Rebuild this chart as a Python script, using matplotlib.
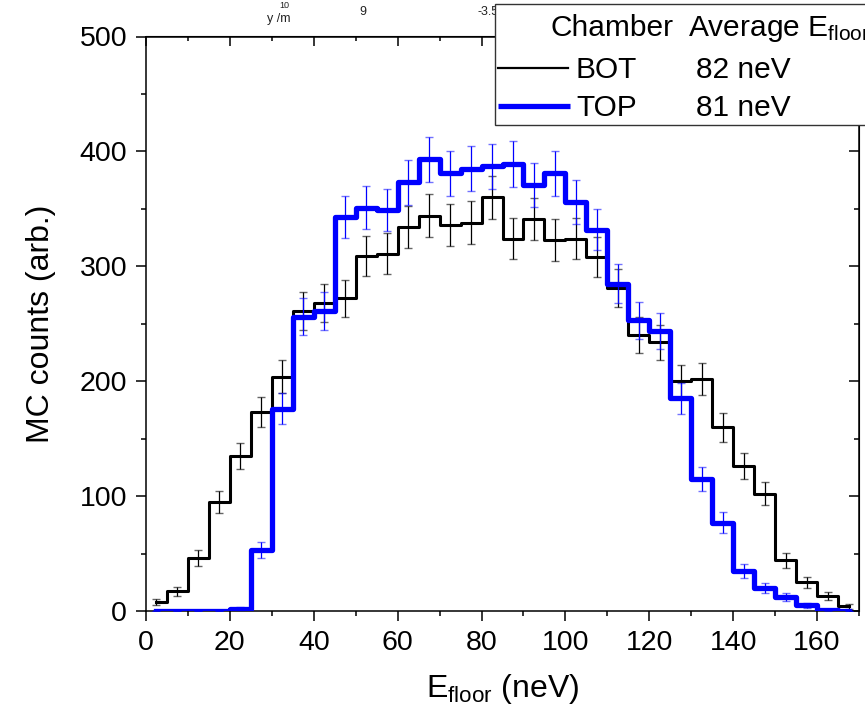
import matplotlib.pyplot as plt
from matplotlib.lines import Line2D
from matplotlib.patches import Rectangle
from matplotlib.ticker import MultipleLocator

plt.rcParams['font.family'] = ['Liberation Sans', 'DejaVu Sans']
plt.rcParams['mathtext.fontset'] = 'custom'
plt.rcParams['mathtext.rm'] = 'Liberation Sans'
plt.rcParams['mathtext.it'] = 'Liberation Sans:italic'

# bin centres (neV)
e_floor = [2.5, 7.5, 12.5, 17.5, 22.5, 27.5, 32.5, 37.5, 42.5, 47.5, 52.5, 57.5,
           62.5, 67.5, 72.5, 77.5, 82.5, 87.5, 92.5, 97.5, 102.5, 107.5, 112.5,
           117.5, 122.5, 127.5, 132.5, 137.5, 142.5, 147.5, 152.5, 157.5, 162.5, 167.5]

# MC counts, bottom chamber
bot_counts = [8, 17, 46, 95, 135, 173, 204, 261, 268, 272, 309, 311,
              334, 344, 336, 338, 360, 324, 341, 323, 324, 308, 281,
              240, 234, 200, 202, 160, 126, 102, 44, 25, 13, 4]
bot_err = [2.8, 4.1, 6.8, 9.7, 11.6, 13.2, 14.3, 16.2, 16.4, 16.5, 17.6, 17.6,
           18.3, 18.5, 18.3, 18.4, 19.0, 18.0, 18.5, 18.0, 18.0, 17.5, 16.8,
           15.5, 15.3, 14.1, 14.2, 12.6, 11.2, 10.1, 6.6, 5.0, 3.6, 2.0]

# MC counts, top chamber
top_counts = [0, 0, 0, 0, 2, 53, 176, 256, 261, 343, 351, 349,
              373, 393, 381, 385, 387, 389, 371, 381, 356, 332, 285,
              253, 244, 185, 115, 77, 35, 20, 12, 5, 1, 0]
top_err = [0, 0, 0, 0, 1.4, 7.3, 13.3, 16.0, 16.2, 18.5, 18.7, 18.7,
           19.3, 19.8, 19.5, 19.6, 19.7, 19.7, 19.3, 19.5, 18.9, 18.2, 16.9,
           15.9, 15.6, 13.6, 10.7, 8.8, 5.9, 4.5, 3.5, 2.2, 1.0, 0]

W, H = 865, 714


def fx(x):
    return x / W


def fy(y):
    return 1 - y / H


fig = plt.figure(figsize=(W / 100, H / 100), dpi=100)
ax = fig.add_axes([fx(146), fy(611), (859 - 146) / W, (611 - 36.5) / H])

# histograms
ax.plot(e_floor, bot_counts, drawstyle='steps-mid', color='black', lw=2.2, zorder=2)
eb = ax.errorbar(e_floor, bot_counts, yerr=bot_err, fmt='none', ecolor='black',
                 elinewidth=0.9, capsize=3.2, capthick=1.0, zorder=3)
for c in eb[1]:
    c.set_alpha(0.6)
ax.plot(e_floor, top_counts, drawstyle='steps-mid', color='#0000ff', lw=3.8, zorder=4)
eb = ax.errorbar(e_floor, top_counts, yerr=top_err, fmt='none', ecolor='#0000ff',
                 elinewidth=0.9, capsize=3.2, capthick=1.0, zorder=5)
for c in eb[1]:
    c.set_alpha(0.55)

ax.set_xlim(0, 170)
ax.set_ylim(0, 500)
ax.xaxis.set_major_locator(MultipleLocator(20))
ax.xaxis.set_minor_locator(MultipleLocator(10))
ax.yaxis.set_major_locator(MultipleLocator(100))
ax.yaxis.set_minor_locator(MultipleLocator(50))
ax.tick_params(which='both', direction='out', top=False, right=False,
               labelsize=20.5, width=1.1, pad=6)
ax.tick_params(which='major', length=7.5)
ax.tick_params(which='minor', length=3.8)
for s in ax.spines.values():
    s.set_linewidth(1.1)

# inward ticks on top and right
top = ax.secondary_xaxis('top')
top.xaxis.set_major_locator(MultipleLocator(20))
top.xaxis.set_minor_locator(MultipleLocator(10))
top.tick_params(which='both', direction='in', labeltop=False, width=1.1)
top.tick_params(which='major', length=7.5)
top.tick_params(which='minor', length=3.5)
right = ax.secondary_yaxis('right')
right.yaxis.set_major_locator(MultipleLocator(100))
right.yaxis.set_minor_locator(MultipleLocator(50))
right.tick_params(which='both', direction='in', labelright=False, width=1.1)
right.tick_params(which='major', length=7.5)
right.tick_params(which='minor', length=3.5)

ax.set_ylabel('MC counts (arb.)', fontsize=23, labelpad=17)
ax.set_xlabel(r'E$_{\mathrm{floor}}$ (neV)', fontsize=23, labelpad=12)

# remnants of a neighbouring plot above the frame
fig.text(fx(284), fy(5), '10', fontsize=6.5, ha='center', va='center', color='#222222')
fig.text(fx(279), fy(19), 'y /m', fontsize=9, ha='center', va='center', color='#222222')
fig.text(fx(363), fy(12), '9', fontsize=9, ha='center', va='center', color='#222222')
fig.text(fx(488), fy(12), '-3.5', fontsize=9, ha='center', va='center', color='#222222')

# legend box, running off the right edge
fig.add_artist(Rectangle((fx(495), fy(125)), (880 - 495) / W, (125 - 4) / H,
                         transform=fig.transFigure, facecolor='white',
                         edgecolor='#333333', lw=1.0, zorder=10))
fig.text(fx(550), fy(36), 'Chamber', fontsize=21.5, va='baseline', zorder=11)
fig.text(fx(688), fy(36), r'Average E$_{\mathrm{floor}}$', fontsize=21.5, va='baseline', zorder=11)
fig.add_artist(Line2D([fx(498), fx(568)], [fy(68), fy(68)], transform=fig.transFigure,
                      color='black', lw=1.6, zorder=11))
fig.text(fx(576), fy(78), 'BOT', fontsize=21.5, va='baseline', zorder=11)
fig.text(fx(696), fy(78), '82 neV', fontsize=21.5, va='baseline', zorder=11)
fig.add_artist(Line2D([fx(498), fx(570)], [fy(106), fy(106)], transform=fig.transFigure,
                      color='#0000ff', lw=3.8, solid_capstyle='butt', zorder=11))
fig.text(fx(576), fy(116), 'TOP', fontsize=21.5, va='baseline', zorder=11)
fig.text(fx(696), fy(116), '81 neV', fontsize=21.5, va='baseline', zorder=11)

fig.savefig('out.png', dpi=100)
